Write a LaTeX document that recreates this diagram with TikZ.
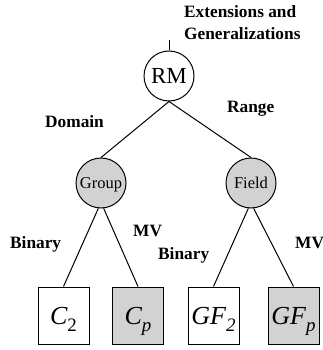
\documentclass[tikz,border=0pt]{standalone}
\usepackage{fontspec}
\setmainfont{Liberation Serif}
\definecolor{lgray}{RGB}{210,210,210}
\newcommand\lowsub[1]{\raisebox{-7pt}{\fontsize{19}{19}\selectfont #1}}
\tikzset{
 lbl/.style={font=\bfseries\fontsize{17.3}{22}\selectfont, inner sep=0pt, anchor=base west, align=left},
 topnode/.style={circle, draw, line width=1pt, minimum size=50pt, inner sep=0pt, font=\fontsize{23}{23}\selectfont},
 midnode/.style={circle, draw, fill=lgray, line width=1pt, minimum size=50pt, inner sep=0pt, text height=11pt, text depth=0pt, font=\fontsize{16.5}{16.5}\selectfont},
 leaf/.style={draw, line width=1pt, minimum width=51pt, minimum height=57pt, inner sep=0pt, text height=18pt, text depth=0pt, font=\fontsize{26}{26}\selectfont\itshape},
 leafg/.style={leaf, fill=lgray},
 conn/.style={line width=1pt}
}
\begin{document}
\begin{tikzpicture}[x=1pt,y=-1pt]
\useasboundingbox (0,0) rectangle (322,350);
\node[topnode] (rm) at (169,76) {RM};
\node[midnode] (group) at (101,183) {Group};
\node[midnode] (field) at (251,183) {Field};
\node[leaf] (c2) at (63.5,315.5) {C\lowsub{\upshape 2}};
\node[leafg] (cp) at (138,315.5) {C\lowsub{p}};
\node[leaf] (gf2) at (213.5,315.5) {GF\lowsub{2}};
\node[leafg] (gfp) at (293.5,315.5) {GF\lowsub{p}};
\coordinate (ext) at (169,40);
\draw[conn] (rm.north) -- (ext);
\draw[conn] (rm.south) -- (group.north);
\draw[conn] (rm.south) -- (field.north);
\draw[conn] (group.264) -- (c2.north);
\draw[conn] (group.276) -- (cp.north);
\draw[conn] (field.264) -- (gf2.north);
\draw[conn] (field.276) -- (gfp.north);
\node[lbl] (extl) at (184,40) {Extensions and\\Generalizations};
\node[lbl] (range) at (227,113) {Range};
\node[lbl] (domain) at (45,127) {Domain};
\node[lbl] (bin1) at (10,248) {Binary};
\node[lbl] (mv1) at (133,236) {MV};
\node[lbl] (bin2) at (158,259) {Binary};
\node[lbl] (mv2) at (295,248) {MV};
\end{tikzpicture}
\end{document}
